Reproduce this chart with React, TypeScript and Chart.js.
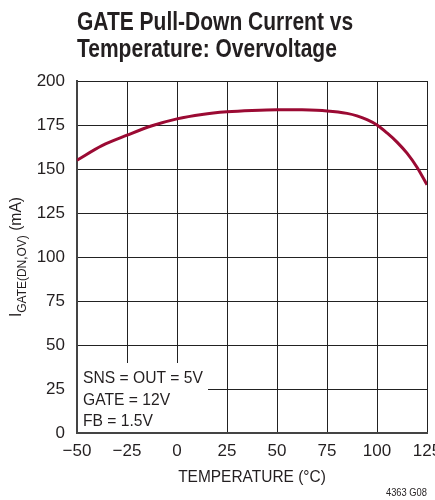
import React, { useEffect, useRef } from "react";
import { Chart, registerables } from "chart.js";

Chart.register(...registerables);

const temperatures = [-50, -37.5, -25, -12.5, 0, 12.5, 25, 37.5, 50, 62.5, 75, 85, 90, 95, 100, 105, 110, 115, 120, 125];
const currents = [155, 163.3, 169.2, 174.6, 178.5, 181, 182.5, 183.3, 183.7, 183.6, 183, 181.6, 180.2, 178, 175, 170.5, 165.3, 159, 151, 141];
const xTicks = [-50, -25, 0, 25, 50, 75, 100, 125];
const yTicks = [0, 25, 50, 75, 100, 125, 150, 175, 200];
const titleLines = ["GATE Pull-Down Current vs", "Temperature: Overvoltage"];
const conditions = ["SNS = OUT = 5V", "GATE = 12V", "FB = 1.5V"];
const xTitle = "TEMPERATURE (°C)";
const yTitleMain = "I";
const yTitleSub = "GATE(DN,OV)";
const yTitleUnit = " (mA)";
const figureId = "4363 G08";

const FONT = "'Liberation Sans', Arial, sans-serif";
const TXT = "#231f20";

function fillScaled(ctx: any, text: string, x: number, y: number, sx: number, align: string) {
  ctx.save();
  ctx.translate(x, y);
  ctx.scale(sx, 1);
  ctx.textAlign = align;
  ctx.fillText(text, 0, 0);
  ctx.restore();
}

const textPlugin = {
  id: "customText",
  beforeDatasetsDraw(chart: any) {
    const { ctx, chartArea } = chart;
    const xs = chart.scales.x;
    const ys = chart.scales.y;
    const bx = chartArea.left + 1;
    const by = ys.getPixelForValue(50) + 18;
    const bw = xs.getPixelForValue(15.5) - bx;
    const bh = chartArea.bottom - 1 - by;
    ctx.save();
    ctx.fillStyle = "#ffffff";
    ctx.fillRect(bx, by, bw, bh);
    ctx.fillStyle = TXT;
    ctx.font = `17px ${FONT}`;
    ctx.textBaseline = "alphabetic";
    conditions.forEach((c, i) => {
      fillScaled(ctx, c, chartArea.left + 6, by + 20 + i * 21.5, 0.92, "left");
    });
    ctx.restore();
  },
  afterDraw(chart: any) {
    const { ctx, chartArea, width, height } = chart;
    ctx.save();
    ctx.fillStyle = TXT;
    ctx.textBaseline = "alphabetic";
    ctx.font = `bold 25px ${FONT}`;
    fillScaled(ctx, titleLines[0], chartArea.left, 30, 0.84, "left");
    fillScaled(ctx, titleLines[1], chartArea.left, 57, 0.84, "left");
    ctx.font = `17px ${FONT}`;
    fillScaled(ctx, xTitle, (chartArea.left + chartArea.right) / 2, 482, 0.91, "center");
    ctx.font = `11px ${FONT}`;
    fillScaled(ctx, figureId, width - 8, height - 4, 0.85, "right");
    // y title
    ctx.translate(21, (chartArea.top + chartArea.bottom) / 2);
    ctx.rotate(-Math.PI / 2);
    const sx = 0.92;
    ctx.font = `17px ${FONT}`;
    const w1 = ctx.measureText(yTitleMain).width * sx;
    const w3 = ctx.measureText(yTitleUnit).width * sx;
    ctx.font = `13px ${FONT}`;
    const w2 = ctx.measureText(yTitleSub).width * sx;
    const total = w1 + w2 + w3;
    let x = -total / 2;
    ctx.font = `17px ${FONT}`;
    fillScaled(ctx, yTitleMain, x, 0, sx, "left");
    x += w1;
    ctx.font = `13px ${FONT}`;
    fillScaled(ctx, yTitleSub, x, 5, sx, "left");
    x += w2;
    ctx.font = `17px ${FONT}`;
    fillScaled(ctx, yTitleUnit, x, 0, sx, "left");
    ctx.restore();
  },
};

export default function App() {
  const ref = useRef<HTMLCanvasElement>(null);
  useEffect(() => {
    if (!ref.current) return;
    const chart = new Chart(ref.current, {
      type: "line",
      data: {
        datasets: [
          {
            data: temperatures.map((t, i) => ({ x: t, y: currents[i] })),
            borderColor: "#9b0a33",
            borderWidth: 3,
            pointRadius: 0,
            cubicInterpolationMode: "monotone",
            fill: false,
          },
        ],
      },
      options: {
        animation: false,
        responsive: false,
        layout: { padding: { top: 81, right: 8, left: 0, bottom: 0 } },
        plugins: { legend: { display: false }, tooltip: { enabled: false }, title: { display: false } },
        scales: {
          x: {
            type: "linear",
            min: -50,
            max: 125,
            afterBuildTicks: (s: any) => {
              s.ticks = xTicks.map((v) => ({ value: v }));
            },
            afterFit: (s: any) => {
              s.height = 67;
              s.paddingRight = 0;
              s.paddingLeft = 0;
            },
            ticks: {
              color: TXT,
              font: { family: FONT, size: 17 },
              padding: 8,
              maxRotation: 0,
              autoSkip: false,
              callback: (v: any) => (v < 0 ? "\u2212" + Math.abs(v) : String(v)),
            },
            grid: { color: "#222", lineWidth: 1, drawTicks: false },
            border: { color: "#444", width: 2 },
          },
          y: {
            min: 0,
            max: 200,
            afterBuildTicks: (s: any) => {
              s.ticks = yTicks.map((v) => ({ value: v }));
            },
            afterFit: (s: any) => {
              s.width = 77;
            },
            ticks: {
              color: TXT,
              font: { family: FONT, size: 17 },
              padding: 12,
              autoSkip: false,
            },
            grid: { color: "#222", lineWidth: 1, drawTicks: false },
            border: { color: "#444", width: 2 },
          },
        },
      },
      plugins: [textPlugin],
    });
    return () => chart.destroy();
  }, []);
  return (
    <div style={{ position: "fixed", left: 0, top: 0, width: 435, height: 500, background: "#fff" }}>
      <canvas ref={ref} width={435} height={500} style={{ display: "block" }} />
    </div>
  );
}
